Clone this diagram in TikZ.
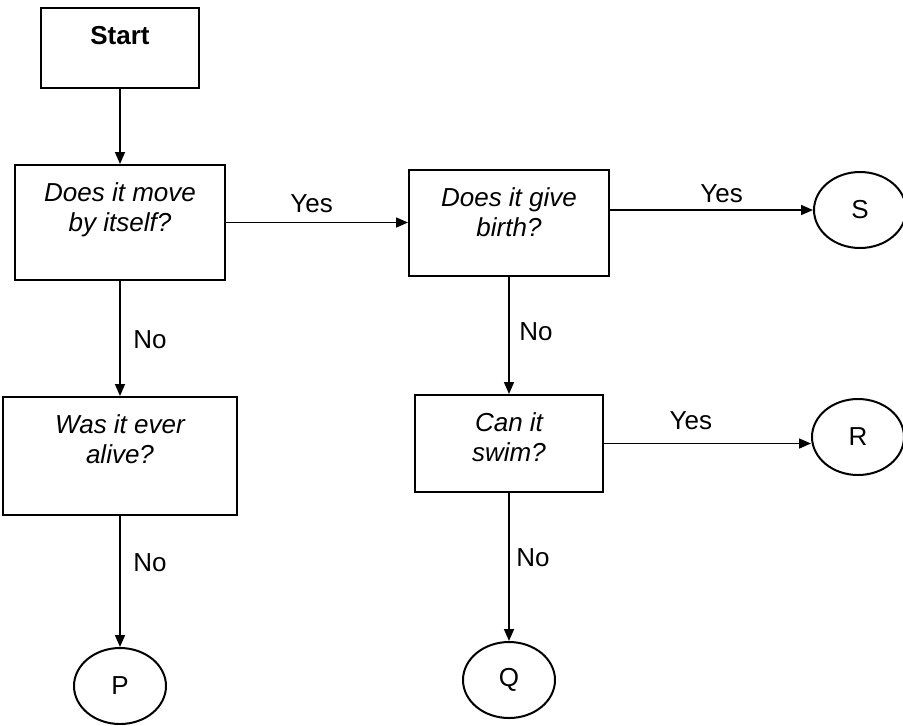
\documentclass[tikz,border=0pt]{standalone}
\usepackage{fontspec}
\setmainfont{Liberation Sans}
\usetikzlibrary{positioning,shapes.geometric,arrows.meta}

\begin{document}
\begin{tikzpicture}[x=0.5pt, y=-0.5pt, node distance={87pt},
  box/.style = {draw, line width=1pt, inner sep=0pt},
  ans/.style = {draw, ellipse, line width=1pt, minimum width=46pt, minimum height=38pt, font=\fontsize{13}{15}\selectfont},
  qtext/.style = {anchor=north, yshift=-6pt, align=center, font=\fontsize{13}{15}\selectfont\itshape},
  lbl/.style = {font=\fontsize{13}{15}\selectfont},
  line/.style = {line width=0.8pt, -{Triangle[length=6pt,width=5pt]}}]
\useasboundingbox (0,0) rectangle (903,725);
\node[box, minimum width=79pt, minimum height=40pt, label={[qtext, font=\fontsize{13}{15}\selectfont\bfseries]above:Start}] (start) at (120,48) {};
\node[box, minimum width=105pt, minimum height=57.5pt, label={[qtext]above:Does it move\\by itself?}] (move) [below of=start, node distance=87.25pt] {};
\node[box, minimum width=117pt, minimum height=59pt, label={[qtext]above:Was it ever\\alive?}] (alive) [below of=move, node distance=116.75pt] {};
\node[ans] (P) [below of=alive, node distance=115pt] {P};
\node[box, minimum width=100pt, minimum height=53pt, label={[qtext]above:Does it give\\birth?}] (birth) [right of=move, node distance=194.5pt] {};
\node[box, minimum width=94pt, minimum height=48.5pt, label={[qtext]above:Can it\\swim?}] (swim) [below of=birth, node distance=110.5pt] {};
\node[ans] (Q) [below of=swim, node distance=118.25pt] {Q};
\node[ans, yshift=6.25pt] (S) [right of=birth, node distance=175.5pt] {S};
\node[ans, yshift=3.25pt] (R) [right of=swim, node distance=174.5pt] {R};
% arrows
\draw[line] (start) -- (move);
\draw[line] (move) -- node[lbl, above, pos=0.47, yshift=1pt] {Yes} (birth);
\draw[line] (move) -- node[lbl, right, pos=0.51, xshift=3pt] {No} (alive);
\draw[line] (alive) -- node[lbl, right, pos=0.36, xshift=3pt] {No} (P);
\draw[line] (birth.east |- S.west) -- node[lbl, above, pos=0.55] {Yes} (S.west);
\draw[line] (birth) -- node[lbl, right, pos=0.47, xshift=1.5pt] {No} (swim);
\draw[line] (swim.east) -- node[lbl, above, pos=0.42, yshift=3pt] {Yes} (swim.east -| R.west);
\draw[line] (swim) -- node[lbl, right, pos=0.44] {No} (Q);
\end{tikzpicture}
\end{document}
